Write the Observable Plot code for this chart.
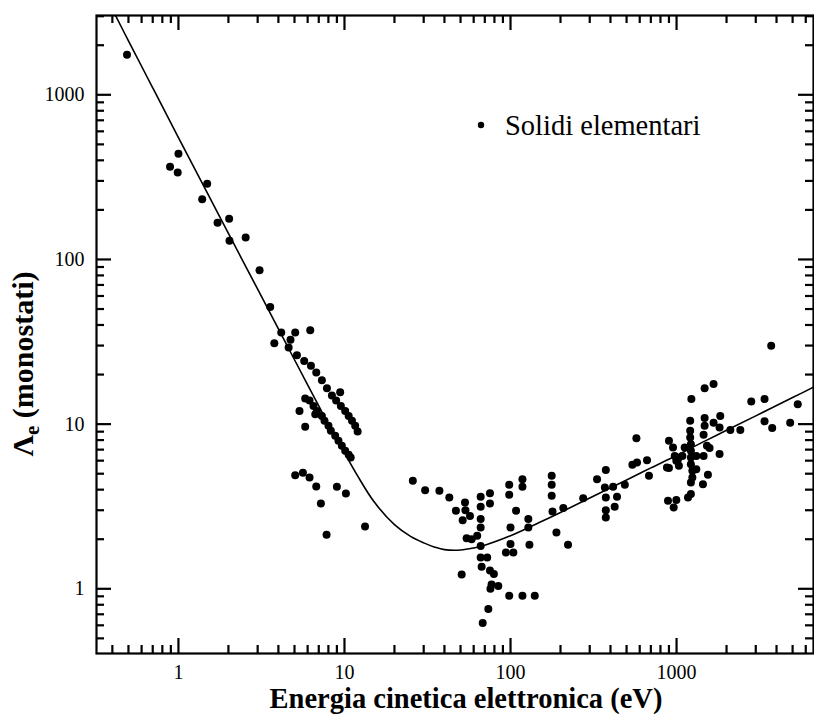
<!DOCTYPE html>
<html><head><meta charset="utf-8">
<script src="https://cdn.jsdelivr.net/npm/d3@7"></script>
<script src="https://cdn.jsdelivr.net/npm/@observablehq/plot@0.6"></script>
<style>body{margin:0;background:#fff} svg{display:block}</style>
</head><body><div id="chart"></div>
<script>
// measured points: kinetic energy (eV)
const energy = [
0.49,1.0,0.89,0.99,1.49,1.39,1.72,2.02,2.03,2.54,3.08,3.57,4.16,5.05,3.78,4.73,4.61,6.22,
5.17,5.72,6.28,6.76,7.31,7.84,9.42,8.40,8.91,9.51,10.1,10.6,11.1,11.6,12.0,
5.80,5.36,6.16,6.51,6.82,6.67,7.31,7.58,8.01,8.28,8.79,9.20,9.64,10.1,10.6,10.9,5.80,
5.05,5.62,6.16,6.76,9.00,10.2,7.21,13.3,7.80,
25.8,30.6,37.3,42.8,53.2,46.9,53.5,57.0,51.5,66.1,75.2,66.1,75.2,66.1,66.1,54.4,58.3,63.0,66.1,66.1,72.4,67.0,50.8,75.2,79.4,76.9,84.4,75.7,98.2,118,140,73.5,68.0,98.2,98.2,118,118,108,100,100,93.8,104,128,128,130,177,177,177,179,189,222,
208,274,375,332,370,415,375,438,424,375,375,488,542,578,573,664,682,900,888,997,961,
3715,1476,1671,1228,2818,3388,5370,3388,3767,4834,2108,2421,1833,1816,1671,1476,1476,1455,1208,1208,1208,1220,1220,1220,1220,1245,1245,1220,1220,1172,1315,1315,1524,1581,1455,1816,1545,1442,900,952,975,875,1020,1084,1119,1033,997
];
// measured points: attenuation length (monolayers)
const lambda = [
1750,438,365,337,288,232,167,177,130,136,86,51.5,36,36,31,32.5,29.2,37.2,
26.2,24.2,22.6,20.6,18.5,16.5,15.6,14.9,13.9,12.9,12.0,11.2,10.5,9.77,9.02,
14.3,12.0,13.9,12.9,12.0,11.5,11.2,10.5,9.77,9.10,8.49,7.92,7.38,6.88,6.51,6.27,9.63,
4.90,5.06,4.74,4.18,4.16,3.79,3.30,2.39,2.13,
4.53,3.97,3.94,3.58,3.34,2.98,3.0,2.77,2.61,3.62,3.81,3.15,3.30,2.65,2.36,2.03,2.0,2.10,1.82,1.55,1.55,1.36,1.22,1.29,1.23,1.06,1.04,1.0,0.907,0.907,0.907,0.753,0.619,4.28,3.72,4.63,4.16,2.98,2.36,1.87,1.66,1.66,2.65,2.36,1.85,4.86,4.28,3.67,2.95,2.20,1.85,
3.09,3.55,5.26,4.63,4.12,4.16,3.58,3.62,3.15,3.0,2.71,4.28,5.66,5.85,8.22,6.04,4.86,5.41,3.42,3.46,3.12,
29.9,16.5,17.5,14.2,13.7,14.2,13.2,10.4,9.46,10.2,9.20,9.20,11.2,9.54,10.2,10.9,9.77,8.61,10.5,9.10,8.29,7.56,6.88,6.27,5.71,5.21,4.74,4.42,3.76,3.58,6.41,5.33,7.38,7.15,6.41,6.58,4.92,4.32,7.92,7.21,6.41,5.45,6.13,6.41,7.21,5.58,5.99
];
// universal curve
const curveEnergy = [0.41,0.5,0.7,1,1.5,2,3,4,5,6,7,8,10,12,15,20,25,30,35,40,50,60,70,100,150,200,300,500,700,1000,1500,2000,3000,5000,7000];
const curveLambda = [3150,2125,1103,550,251,144,66,37.9,24.6,17.3,12.9,10.0,6.7,4.85,3.4,2.45,2.08,1.9,1.79,1.73,1.72,1.77,1.84,2.10,2.535,2.91,3.56,4.584,5.424,6.45,7.94,9.168,11.228,14.496,17.152];

const xMajor = [1,10,100,1000];
const xMinor = [0.4,0.5,0.6,0.7,0.8,0.9,2,3,4,5,6,7,8,9,20,30,40,50,60,70,80,90,200,300,400,500,600,700,800,900,2000,3000,4000,5000,6000];
const yMajor = [1,10,100,1000];
const yMinor = [0.5,0.6,0.7,0.8,0.9,2,3,4,5,6,7,8,9,20,30,40,50,60,70,80,90,200,300,400,500,600,700,800,900,2000,3000];
const xTitle = "Energia cinetica elettronica (eV)";
const yTitleMain = "Λ";
const yTitleSub = "e";
const yTitleRest = " (monostati)";
const legendLabel = "Solidi elementari";

const points = energy.map((e,i)=>({e, l: lambda[i]}));
const curve = curveEnergy.map((e,i)=>({e, l: curveLambda[i]}));

const W=814, H=715, mL=96, mR=1, mT=15, mB=62;
const fh = H-mT-mB, fw = W-mL-mR;
const font = "'Liberation Serif', 'Times New Roman', serif";

const chart = Plot.plot({
  width: W, height: H, marginLeft: mL, marginRight: mR, marginTop: mT, marginBottom: mB,
  x: {type: "log", domain: [0.321, 6680]},
  y: {type: "log", domain: [0.4046, 3031]},
  style: {fontFamily: font, fontSize: "20px", color: "#000", background: "#fff"},
  marks: [
    Plot.line(curve, {x: "e", y: "l", stroke: "#000", strokeWidth: 1.6, curve: "catmull-rom", clip: true}),
    Plot.dot(points, {x: "e", y: "l", r: 4, fill: "#000", stroke: null}),
    // inward ticks on all four sides
    Plot.tickX(xMajor, {x: d=>d, insetTop: fh-15, stroke: "#000", strokeWidth: 2.2}),
    Plot.tickX(xMinor, {x: d=>d, insetTop: fh-8, stroke: "#000", strokeWidth: 2.2}),
    Plot.tickX(xMajor, {x: d=>d, insetBottom: fh-15, stroke: "#000", strokeWidth: 2.2}),
    Plot.tickX(xMinor, {x: d=>d, insetBottom: fh-8, stroke: "#000", strokeWidth: 2.2}),
    Plot.tickY(yMajor, {y: d=>d, insetRight: fw-15, stroke: "#000", strokeWidth: 2.2}),
    Plot.tickY(yMinor, {y: d=>d, insetRight: fw-8, stroke: "#000", strokeWidth: 2.2}),
    Plot.tickY(yMajor, {y: d=>d, insetLeft: fw-15, stroke: "#000", strokeWidth: 2.2}),
    Plot.tickY(yMinor, {y: d=>d, insetLeft: fw-8, stroke: "#000", strokeWidth: 2.2}),
    Plot.frame({stroke: "#000", strokeWidth: 2.2}),
    Plot.axisX(xMajor, {tickSize: 0, tickPadding: 11, tickFormat: d=>String(d), label: null, fontSize: 20}),
    Plot.axisY(yMajor, {tickSize: 0, tickPadding: 12, tickFormat: d=>String(d), label: null, fontSize: 20})
  ]
});
document.getElementById("chart").appendChild(chart);

const svg = d3.select(chart);
// x-axis title
svg.append("text")
  .attr("x", 466).attr("y", 708)
  .attr("text-anchor", "middle")
  .attr("font-family", font).attr("font-weight", "bold").attr("font-size", 28.5).attr("fill", "#000")
  .text(xTitle);
// y-axis title with subscript
const yt = svg.append("text")
  .attr("transform", "translate(33,364) rotate(-90)")
  .attr("text-anchor", "middle")
  .attr("font-family", font).attr("font-weight", "bold").attr("font-size", 30).attr("fill", "#000");
yt.append("tspan").text(yTitleMain);
yt.append("tspan").attr("font-size", 21).attr("dy", 6).text(yTitleSub);
yt.append("tspan").attr("dy", -6).text(yTitleRest);

// legend
const lg = svg.append("g").attr("transform", "translate(481,125)");
lg.append("circle").attr("r", 3.2).attr("fill", "#000");
lg.append("text").attr("x", 24).attr("y", 10).attr("text-anchor", "start")
  .attr("font-family", font).attr("font-size", 28.5).attr("fill", "#000").text(legendLabel);
</script>
</body></html>
